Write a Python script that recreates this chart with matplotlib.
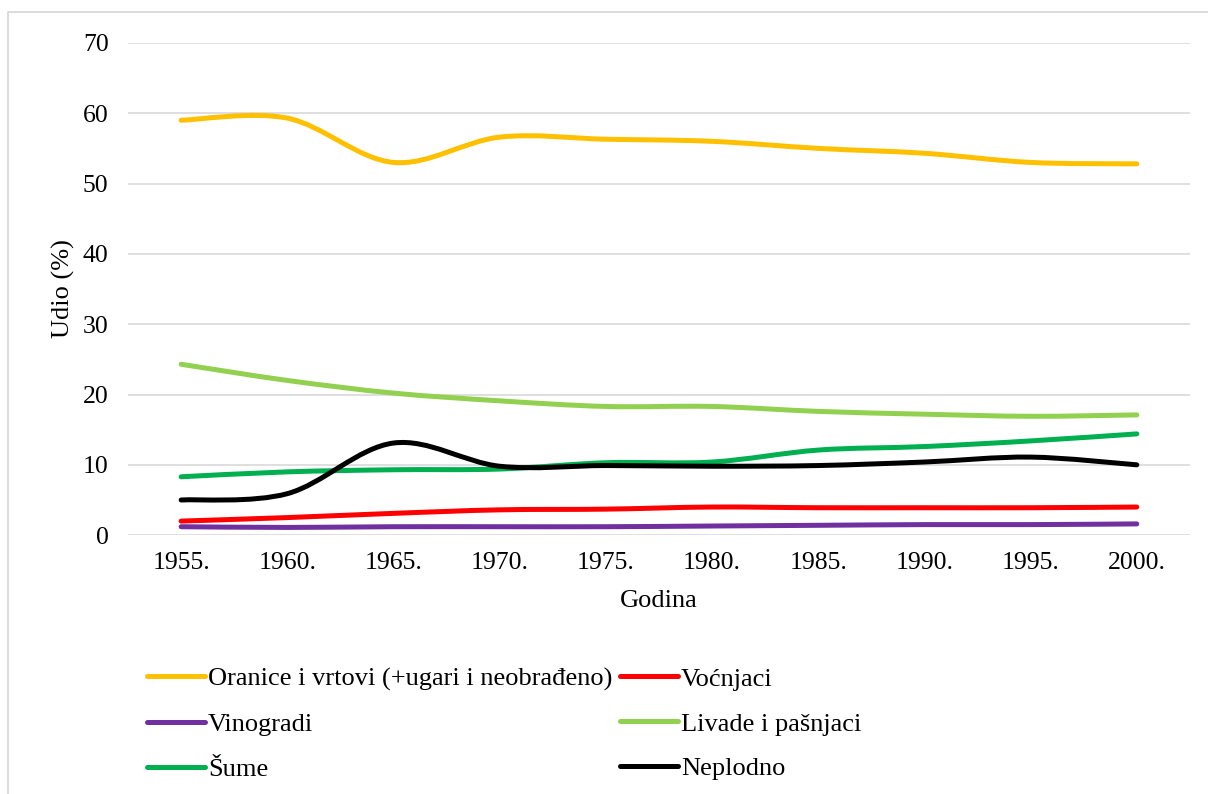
import numpy as np
import matplotlib.pyplot as plt
from matplotlib.path import Path
from matplotlib.patches import PathPatch
from matplotlib.lines import Line2D

plt.rcParams['font.family'] = ['Liberation Serif', 'DejaVu Serif']

# podaci
godine = ['1955.', '1960.', '1965.', '1970.', '1975.', '1980.', '1985.', '1990.', '1995.', '2000.']
oranice = [59.0, 59.3, 53.0, 56.6, 56.3, 56.0, 55.0, 54.3, 53.0, 52.8]
vocnjaci = [2.0, 2.5, 3.1, 3.6, 3.7, 4.0, 3.9, 3.9, 3.9, 4.0]
vinogradi = [1.2, 1.1, 1.2, 1.2, 1.2, 1.3, 1.4, 1.5, 1.5, 1.6]
livade = [24.3, 22.0, 20.2, 19.1, 18.3, 18.3, 17.6, 17.2, 16.9, 17.1]
sume = [8.3, 9.0, 9.3, 9.4, 10.3, 10.4, 12.1, 12.6, 13.4, 14.4]
neplodno = [5.0, 5.9, 13.1, 9.8, 9.9, 9.8, 9.9, 10.4, 11.1, 10.0]

serije = [
    ('Oranice i vrtovi (+ugari i neobrađeno)', oranice, '#FFC000'),
    ('Voćnjaci', vocnjaci, '#FF0000'),
    ('Vinogradi', vinogradi, '#7030A0'),
    ('Livade i pašnjaci', livade, '#92D050'),
    ('Šume', sume, '#00B050'),
    ('Neplodno', neplodno, '#000000'),
]


def smooth_path(x, y):
    # Excel-like smoothed line: cubic bezier through the points
    p = np.column_stack([x, y]).astype(float)
    ext = np.vstack([p[0], p, p[-1]])
    verts = [p[0]]
    codes = [Path.MOVETO]
    for i in range(len(p) - 1):
        c1 = ext[i + 1] + (ext[i + 2] - ext[i]) / 6
        c2 = ext[i + 2] - (ext[i + 3] - ext[i + 1]) / 6
        verts += [c1, c2, p[i + 1]]
        codes += [Path.CURVE4] * 3
    return Path(verts, codes)


fig = plt.figure(figsize=(12.08, 7.94), dpi=100)
ax = fig.add_axes([0.106, 0.326, 0.879, 0.62])

x = np.arange(len(godine))
lw = 3.6
handles = {}
for naziv, vrijednosti, boja in serije:
    patch = PathPatch(smooth_path(x, vrijednosti), facecolor='none', edgecolor=boja,
                      lw=lw, capstyle='round', joinstyle='round', zorder=3)
    ax.add_patch(patch)
    handles[naziv] = Line2D([], [], color=boja, lw=lw, solid_capstyle='round')

ax.set_xlim(-0.5, len(godine) - 0.5)
ax.set_ylim(0, 70)
ax.set_yticks(range(0, 71, 10))
ax.set_xticks(x)
ax.set_xticklabels(godine)
ax.tick_params(length=0, labelsize=18.5, colors='#000000')
ax.tick_params(axis='x', pad=12)
ax.tick_params(axis='y', pad=14)
ax.grid(axis='y', color='#D9D9D9', lw=1.2)
ax.set_axisbelow(True)
for s in ax.spines.values():
    s.set_visible(False)
ax.set_xlabel('Godina', fontsize=19)
ax.set_ylabel('Udio (%)', fontsize=19)
ax.xaxis.set_label_coords(0.5, -0.112)
ax.yaxis.set_label_coords(-0.050, 0.5)

# legenda: redoslijed kao u Excelu (po redovima)
red = ['Oranice i vrtovi (+ugari i neobrađeno)', 'Vinogradi', 'Šume',
       'Voćnjaci', 'Livade i pašnjaci', 'Neplodno']
fig.legend([handles[n] for n in red], red, ncol=2, loc='upper left',
           bbox_to_anchor=(0.113, 0.173), frameon=False, fontsize=19,
           handlelength=2.2, handletextpad=0.1, columnspacing=0.3,
           labelspacing=0.81, borderaxespad=0)

# okvir (vidljiv samo lijevo i gore)
fig.add_artist(Line2D([8 / 1208, 8 / 1208, 1.0], [0.0, 1 - 12 / 794, 1 - 12 / 794],
                      transform=fig.transFigure, color='#D9D9D9', lw=1.3))

fig.savefig('out.png', dpi=100)
